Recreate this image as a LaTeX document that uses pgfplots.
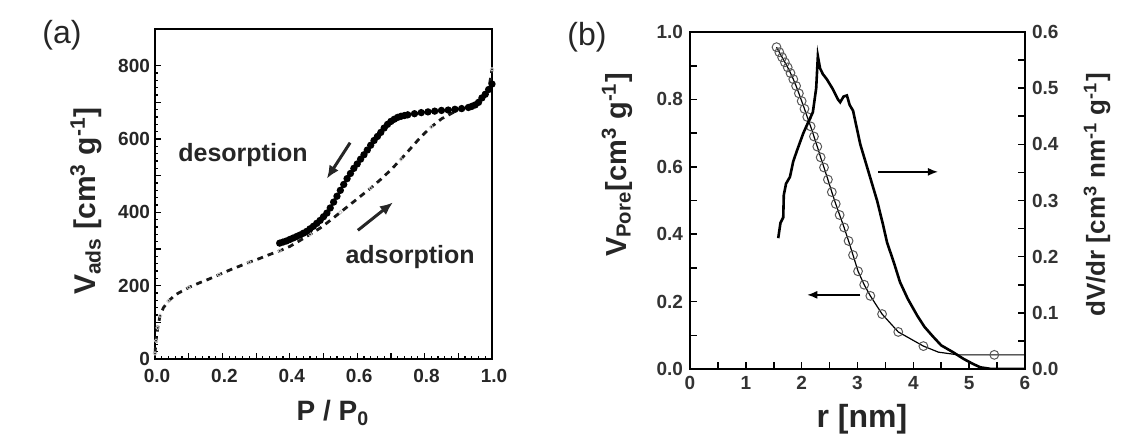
\documentclass[border=0pt]{standalone}
\usepackage{fontspec}
\setmainfont{Liberation Sans}
\usepackage{pgfplots}
\pgfplotsset{compat=1.18}
\usetikzlibrary{arrows.meta}
\begin{document}
\begin{tikzpicture}
\useasboundingbox (0,0) rectangle (567.5pt,217.5pt);
% ---------------- panel (a) ----------------
\begin{axis}[
  at={(77.5pt,38pt)}, anchor=south west,
  scale only axis, width=168.5pt, height=165pt,
  xmin=0, xmax=1, ymin=0, ymax=900,
  xtick={0,0.2,0.4,0.6,0.8,1.0}, ytick={0,200,400,600,800},
  extra x ticks={0.1,0.3,0.5,0.7,0.9}, extra x tick labels={},
  extra y ticks={100,300,500,700}, extra y tick labels={},
  minor x tick num=9, minor y tick num=9,
  xtick pos=bottom, ytick pos=left,
  tick align=inside,
  major tick length=3pt, minor tick length=1.6pt,
  axis line style={line width=1pt},
  every tick/.style={black, line width=0.6pt},
  /pgf/number format/assume math mode=true,
  tick label style={font=\bfseries\fontsize{9.5}{10}\selectfont, black!85},
  xticklabel style={yshift=-1.5pt, xshift=1pt, /pgf/number format/.cd, fixed, fixed zerofill, precision=1},
  yticklabel style={xshift=1pt, /pgf/number format/.cd, fixed, precision=0},
  clip=false,
]
\addplot[black!90, dash pattern=on 3pt off 2.5pt, line width=1.4pt] coordinates {
 (0.0,15) (0.003,50) (0.008,85) (0.015,118) (0.025,140) (0.04,158) (0.06,175)
 (0.08,185) (0.10,195) (0.13,207) (0.16,218) (0.19,230) (0.22,242) (0.25,253)
 (0.28,264) (0.31,274) (0.34,285) (0.37,295) (0.40,307) (0.43,323) (0.46,340)
 (0.49,357) (0.52,378) (0.55,400) (0.58,422) (0.61,444) (0.64,466) (0.67,490)
 (0.70,516) (0.73,545) (0.76,576) (0.79,607) (0.82,633) (0.85,655) (0.88,670)
 (0.91,683) (0.94,693) (0.96,702) (0.98,715) (0.99,735) (1.0,790)};
\addplot[only marks, mark=o, mark size=0.9pt, mark options={gray!45, line width=0.4pt}] coordinates {
 (0.0,15) (0.003,50) (0.008,85) (0.015,118) (0.04,158) (0.10,195) (0.19,230)
 (0.28,264) (0.37,295) (0.46,340) (0.55,400) (0.64,466) (0.73,545) (0.82,633)
 (0.91,683) (0.96,702) (0.99,735) (1.0,790)};
\addplot[black, line width=1pt, mark=*, mark size=1.3pt] coordinates {
 (1.0,750) (0.99,735) (0.98,722) (0.97,712) (0.96,700) (0.95,693) (0.94,689)
 (0.93,686) (0.91,683) (0.89,681) (0.87,679) (0.85,678) (0.83,676) (0.81,674)
 (0.79,672) (0.77,669) (0.75,666) (0.74,664) (0.73,662) (0.72,659) (0.71,654)
 (0.70,648) (0.69,640) (0.68,630) (0.67,618) (0.66,607) (0.65,596) (0.64,583)
 (0.63,570) (0.62,557) (0.61,545) (0.60,532) (0.59,520) (0.58,506) (0.57,492)
 (0.56,476) (0.55,460) (0.54,444) (0.53,428) (0.52,412) (0.51,398) (0.50,388)
 (0.49,378) (0.48,370) (0.47,362) (0.46,355) (0.45,348) (0.44,343) (0.43,338)
 (0.42,334) (0.41,330) (0.40,326) (0.39,322) (0.38,319) (0.37,316)};
\node[font=\bfseries\fontsize{12.5}{14}\selectfont, black!85] at (axis cs:0.261,555) {desorption};
\node[font=\bfseries\fontsize{12.5}{14}\selectfont, black!85] at (axis cs:0.757,277) {adsorption};
\draw[-{Latex[length=6.5pt,width=5.5pt]}, line width=1.5pt, black!85] (axis cs:0.579,590) -- (axis cs:0.510,492);
\draw[-{Latex[length=6.5pt,width=5.5pt]}, line width=1.5pt, black!85] (axis cs:0.602,351) -- (axis cs:0.706,427);
\end{axis}
\node[font=\fontsize{16}{18}\selectfont, black!85] at (31pt,200pt) {(a)};
\node[rotate=90, font=\bfseries\fontsize{15}{16}\selectfont, black!85] at (43pt,117pt)
  {V\textsubscript{ads} [cm\textsuperscript{3} g\textsuperscript{-1}]};
\node[font=\bfseries\fontsize{14}{16}\selectfont, black!85] at (166.5pt,11pt)
  {P / P\textsubscript{0}};
% ---------------- panel (b) ----------------
\begin{axis}[
  at={(345pt,33pt)}, anchor=south west,
  scale only axis, width=167.5pt, height=168.5pt,
  xmin=0, xmax=6, ymin=0, ymax=1,
  xtick={0,1,2,3,4,5,6}, ytick={0,0.2,0.4,0.6,0.8,1.0},
  minor x tick num=1, minor y tick num=1,
  xtick pos=bottom, ytick pos=left,
  tick align=inside,
  major tick length=3.5pt, minor tick length=3.5pt,
  axis line style={line width=1pt},
  every tick/.style={black, line width=0.8pt},
  /pgf/number format/assume math mode=true,
  tick label style={font=\bfseries\fontsize{9.5}{10}\selectfont, black!80},
  yticklabel style={/pgf/number format/.cd, fixed, fixed zerofill, precision=1},
  clip=false,
]
\addplot[black, line width=0.6pt] coordinates {
 (1.55,0.955) (1.60,0.94) (1.65,0.925) (1.70,0.91) (1.75,0.895) (1.80,0.878)
 (1.85,0.86) (1.90,0.84) (1.95,0.818) (2.00,0.795) (2.05,0.772) (2.10,0.748)
 (2.16,0.72) (2.22,0.69) (2.28,0.66) (2.34,0.628) (2.40,0.598) (2.47,0.562)
 (2.54,0.525) (2.61,0.49) (2.68,0.457) (2.76,0.42) (2.84,0.38) (2.92,0.338)
 (3.01,0.29) (3.12,0.25) (3.23,0.217) (3.44,0.163) (3.73,0.11) (4.18,0.068)
 (4.45,0.05) (4.8,0.042) (5.45,0.042) (6.0,0.042)};
\addplot[only marks, mark=o, mark size=2.2pt,
  mark options={gray!70!black, fill=white, line width=0.5pt}] coordinates {
 (1.55,0.955) (1.60,0.94) (1.65,0.925) (1.70,0.91) (1.75,0.895) (1.80,0.878)
 (1.85,0.86) (1.90,0.84) (1.95,0.818) (2.00,0.795) (2.05,0.772) (2.10,0.748)
 (2.16,0.72) (2.22,0.69) (2.28,0.66) (2.34,0.628) (2.40,0.598) (2.47,0.562)
 (2.54,0.525) (2.61,0.49) (2.68,0.457) (2.76,0.42) (2.84,0.38) (2.92,0.338)
 (3.01,0.29) (3.12,0.25) (3.23,0.217) (3.44,0.163) (3.73,0.11) (4.18,0.068)
 (5.45,0.042)};
\draw[-{Latex[length=5pt,width=4pt]}, line width=0.7pt, black] (axis cs:3.37,0.585) -- (axis cs:4.44,0.585);
\draw[-{Latex[length=5pt,width=4pt]}, line width=0.7pt, black] (axis cs:3.05,0.22) -- (axis cs:2.10,0.22);
\end{axis}
\begin{axis}[
  at={(345pt,33pt)}, anchor=south west,
  scale only axis, width=167.5pt, height=168.5pt,
  xmin=0, xmax=6, ymin=0, ymax=0.6,
  axis x line=none, axis y line*=right,
  ytick={0,0.1,0.2,0.3,0.4,0.5,0.6}, minor y tick num=1,
  tick align=inside,
  major tick length=3.5pt, minor tick length=3.5pt,
  axis line style={line width=1pt},
  every tick/.style={black, line width=0.8pt},
  /pgf/number format/assume math mode=true,
  tick label style={font=\bfseries\fontsize{9.5}{10}\selectfont, black!80},
  yticklabel style={/pgf/number format/.cd, fixed, fixed zerofill, precision=1},
]
\addplot[black, line width=1.3pt] coordinates {
 (1.58,0.233) (1.62,0.26) (1.67,0.27) (1.68,0.31) (1.72,0.33) (1.79,0.342)
 (1.85,0.37) (1.92,0.39) (2.03,0.42) (2.12,0.44) (2.20,0.457) (2.26,0.50)
 (2.29,0.557) (2.33,0.535) (2.38,0.525) (2.45,0.516) (2.56,0.498) (2.65,0.48)
 (2.69,0.475) (2.75,0.485) (2.81,0.487) (2.86,0.47) (2.92,0.46) (3.05,0.40)
 (3.17,0.36) (3.23,0.34) (3.35,0.30) (3.45,0.26) (3.53,0.225) (3.65,0.19)
 (3.76,0.155) (3.9,0.125) (4.07,0.095) (4.2,0.075) (4.35,0.058) (4.5,0.042)
 (4.71,0.03) (4.9,0.018) (5.07,0.009) (5.2,0.003) (5.4,0.0) (6.0,0.0)};
\end{axis}
\node[font=\fontsize{16}{18}\selectfont, black!85] at (293.5pt,199pt) {(b)};
\node[rotate=90, font=\bfseries\fontsize{14.5}{16}\selectfont, black!85] at (308.5pt,135pt)
  {V\textsubscript{Pore}[cm\textsuperscript{3} g\textsuperscript{-1}]};
\node[rotate=90, font=\bfseries\fontsize{13}{15}\selectfont, black!85] at (548.5pt,120pt)
  {dV/dr [cm\textsuperscript{3} nm\textsuperscript{-1} g\textsuperscript{-1}]};
\node[font=\bfseries\fontsize{16}{18}\selectfont, black!85] at (431pt,8pt) {r [nm]};
\end{tikzpicture}
\end{document}
